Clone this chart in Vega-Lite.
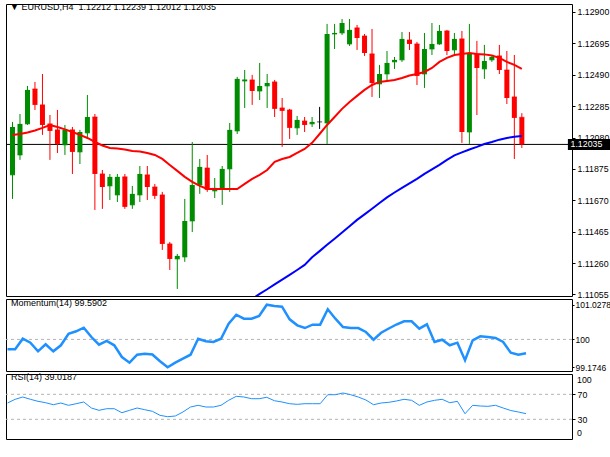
{
  "$schema": "https://vega.github.io/schema/vega-lite/v6.json",
  "background": "#ffffff",
  "padding": {"left": 2, "top": 2, "right": 0, "bottom": 0},
  "bounds": "flush",
  "spacing": 3,
  "resolve": {"scale": {"y": "independent"}},
  "datasets": {
    "d": [
      {"i":0,"o":1.11836,"h":1.12182,"l":1.11679,"c":1.12149,"ma20":1.12097,"mom":99.708,"rsi":56.08},
      {"i":1,"o":1.11966,"h":1.12234,"l":1.11934,"c":1.12169,"ma20":1.12103,"mom":99.708,"rsi":62.0},
      {"i":2,"o":1.12169,"h":1.12417,"l":1.12162,"c":1.12391,"ma20":1.12113,"mom":100.021,"rsi":65.68},
      {"i":3,"o":1.12397,"h":1.12443,"l":1.12260,"c":1.12293,"ma20":1.12126,"mom":99.903,"rsi":62.0},
      {"i":4,"o":1.12293,"h":1.12495,"l":1.12097,"c":1.12162,"ma20":1.12143,"mom":99.648,"rsi":58.8},
      {"i":5,"o":1.12169,"h":1.12227,"l":1.11934,"c":1.12123,"ma20":1.12162,"mom":99.855,"rsi":56.56},
      {"i":6,"o":1.12130,"h":1.12260,"l":1.11979,"c":1.12038,"ma20":1.12149,"mom":99.648,"rsi":53.36},
      {"i":7,"o":1.12032,"h":1.12162,"l":1.11966,"c":1.12130,"ma20":1.12133,"mom":99.826,"rsi":56.08},
      {"i":8,"o":1.12130,"h":1.12149,"l":1.11842,"c":1.11986,"ma20":1.12116,"mom":100.169,"rsi":52.4},
      {"i":9,"o":1.11986,"h":1.12130,"l":1.11907,"c":1.12116,"ma20":1.12097,"mom":100.240,"rsi":54.96},
      {"i":10,"o":1.12110,"h":1.12358,"l":1.12077,"c":1.12214,"ma20":1.12077,"mom":100.347,"rsi":57.68},
      {"i":11,"o":1.12214,"h":1.12234,"l":1.11607,"c":1.11842,"ma20":1.12051,"mom":100.071,"rsi":48.08},
      {"i":12,"o":1.11842,"h":1.11868,"l":1.11614,"c":1.11757,"ma20":1.12028,"mom":99.844,"rsi":44.4},
      {"i":13,"o":1.11764,"h":1.11842,"l":1.11672,"c":1.11823,"ma20":1.12012,"mom":99.953,"rsi":46.96},
      {"i":14,"o":1.11705,"h":1.11842,"l":1.11659,"c":1.11823,"ma20":1.12009,"mom":99.826,"rsi":46.96},
      {"i":15,"o":1.11823,"h":1.11842,"l":1.11614,"c":1.11627,"ma20":1.12002,"mom":99.479,"rsi":40.56},
      {"i":16,"o":1.11640,"h":1.11764,"l":1.11614,"c":1.11712,"ma20":1.11992,"mom":99.311,"rsi":44.4},
      {"i":17,"o":1.11705,"h":1.11894,"l":1.11659,"c":1.11842,"ma20":1.11989,"mom":99.547,"rsi":48.08},
      {"i":18,"o":1.11836,"h":1.11894,"l":1.11672,"c":1.11757,"ma20":1.11979,"mom":99.577,"rsi":45.36},
      {"i":19,"o":1.11757,"h":1.11777,"l":1.11679,"c":1.11699,"ma20":1.11966,"mom":99.553,"rsi":42.8},
      {"i":20,"o":1.11705,"h":1.11725,"l":1.11346,"c":1.11385,"ma20":1.11940,"mom":99.352,"rsi":36.4},
      {"i":21,"o":1.11385,"h":1.11398,"l":1.11215,"c":1.11287,"ma20":1.11901,"mom":99.1746,"rsi":34.16},
      {"i":22,"o":1.11287,"h":1.11320,"l":1.11091,"c":1.11307,"ma20":1.11862,"mom":99.311,"rsi":35.28},
      {"i":23,"o":1.11300,"h":1.11679,"l":1.11268,"c":1.11535,"ma20":1.11823,"mom":99.429,"rsi":41.68},
      {"i":24,"o":1.11535,"h":1.12051,"l":1.11463,"c":1.11770,"ma20":1.11790,"mom":99.547,"rsi":49.68},
      {"i":25,"o":1.11770,"h":1.11940,"l":1.11712,"c":1.11888,"ma20":1.11764,"mom":100.021,"rsi":52.4},
      {"i":26,"o":1.11881,"h":1.11966,"l":1.11725,"c":1.11738,"ma20":1.11744,"mom":99.944,"rsi":49.68},
      {"i":27,"o":1.11731,"h":1.11816,"l":1.11685,"c":1.11751,"ma20":1.11744,"mom":99.923,"rsi":49.68},
      {"i":28,"o":1.11744,"h":1.11894,"l":1.11640,"c":1.11875,"ma20":1.11744,"mom":100.021,"rsi":52.4},
      {"i":29,"o":1.11875,"h":1.12175,"l":1.11725,"c":1.12130,"ma20":1.11744,"mom":100.465,"rsi":60.4},
      {"i":30,"o":1.12123,"h":1.12476,"l":1.12103,"c":1.12463,"ma20":1.11744,"ma100":1.10964,"mom":100.731,"rsi":66.8},
      {"i":31,"o":1.12449,"h":1.12521,"l":1.12273,"c":1.12459,"ma20":1.11777,"ma100":1.10995,"mom":100.613,"rsi":65.68},
      {"i":32,"o":1.12456,"h":1.12489,"l":1.12293,"c":1.12384,"ma20":1.11810,"ma100":1.11026,"mom":100.613,"rsi":62.96},
      {"i":33,"o":1.12384,"h":1.12567,"l":1.12325,"c":1.12417,"ma20":1.11836,"ma100":1.11059,"mom":100.693,"rsi":62.96},
      {"i":34,"o":1.12417,"h":1.12495,"l":1.12273,"c":1.12436,"ma20":1.11868,"ma100":1.11089,"mom":101.0278,"rsi":65.2},
      {"i":35,"o":1.12443,"h":1.12456,"l":1.12214,"c":1.12267,"ma20":1.11921,"ma100":1.11121,"mom":100.989,"rsi":59.76},
      {"i":36,"o":1.12273,"h":1.12338,"l":1.12019,"c":1.12254,"ma20":1.11940,"ma100":1.11152,"mom":100.968,"rsi":57.68},
      {"i":37,"o":1.12260,"h":1.12267,"l":1.12071,"c":1.12143,"ma20":1.11953,"ma100":1.11183,"mom":100.595,"rsi":54.96},
      {"i":38,"o":1.12143,"h":1.12221,"l":1.12097,"c":1.12195,"ma20":1.11979,"ma100":1.11215,"mom":100.417,"rsi":54.0},
      {"i":39,"o":1.12188,"h":1.12214,"l":1.12116,"c":1.12162,"ma20":1.12005,"ma100":1.11248,"mom":100.337,"rsi":54.96},
      {"i":40,"o":1.12169,"h":1.12214,"l":1.12149,"c":1.12182,"ma20":1.12045,"ma100":1.11298,"mom":100.436,"rsi":54.96},
      {"i":41,"o":1.12182,"h":1.12280,"l":1.12136,"c":1.12182,"ma20":1.12103,"ma100":1.11338,"mom":100.436,"rsi":54.96},
      {"i":42,"o":1.12175,"h":1.12822,"l":1.12038,"c":1.12756,"ma20":1.12162,"ma100":1.11379,"mom":100.891,"rsi":69.36},
      {"i":43,"o":1.12756,"h":1.12822,"l":1.12658,"c":1.12763,"ma20":1.12214,"ma100":1.11419,"mom":100.613,"rsi":69.36},
      {"i":44,"o":1.12763,"h":1.12854,"l":1.12750,"c":1.12828,"ma20":1.12267,"ma100":1.11460,"mom":100.368,"rsi":72.08},
      {"i":45,"o":1.12691,"h":1.12854,"l":1.12678,"c":1.12783,"ma20":1.12312,"ma100":1.11501,"mom":100.337,"rsi":69.36},
      {"i":46,"o":1.12796,"h":1.12815,"l":1.12652,"c":1.12730,"ma20":1.12352,"ma100":1.11542,"mom":100.337,"rsi":65.68},
      {"i":47,"o":1.12743,"h":1.12756,"l":1.12613,"c":1.12632,"ma20":1.12391,"ma100":1.11578,"mom":100.219,"rsi":60.88},
      {"i":48,"o":1.12626,"h":1.12789,"l":1.12345,"c":1.12436,"ma20":1.12423,"ma100":1.11615,"mom":99.991,"rsi":53.36},
      {"i":49,"o":1.12430,"h":1.12554,"l":1.12338,"c":1.12495,"ma20":1.12443,"ma100":1.11652,"mom":100.198,"rsi":56.08},
      {"i":50,"o":1.12495,"h":1.12645,"l":1.12443,"c":1.12567,"ma20":1.12449,"ma100":1.11689,"mom":100.323,"rsi":57.2},
      {"i":51,"o":1.12574,"h":1.12606,"l":1.12528,"c":1.12587,"ma20":1.12456,"ma100":1.11721,"mom":100.441,"rsi":59.28},
      {"i":52,"o":1.12587,"h":1.12769,"l":1.12574,"c":1.12724,"ma20":1.12469,"ma100":1.11751,"mom":100.536,"rsi":62.0},
      {"i":53,"o":1.12717,"h":1.12769,"l":1.12652,"c":1.12691,"ma20":1.12485,"ma100":1.11780,"mom":100.536,"rsi":60.4},
      {"i":54,"o":1.12691,"h":1.12704,"l":1.12423,"c":1.12482,"ma20":1.12495,"ma100":1.11810,"mom":100.317,"rsi":52.4},
      {"i":55,"o":1.12495,"h":1.12763,"l":1.12404,"c":1.12658,"ma20":1.12508,"ma100":1.11842,"mom":100.447,"rsi":57.68},
      {"i":56,"o":1.12658,"h":1.12828,"l":1.12619,"c":1.12691,"ma20":1.12534,"ma100":1.11872,"mom":99.923,"rsi":60.4},
      {"i":57,"o":1.12691,"h":1.12815,"l":1.12685,"c":1.12776,"ma20":1.12574,"ma100":1.11901,"mom":99.991,"rsi":62.0},
      {"i":58,"o":1.12776,"h":1.12783,"l":1.12619,"c":1.12645,"ma20":1.12600,"ma100":1.11934,"mom":99.826,"rsi":56.56},
      {"i":59,"o":1.12652,"h":1.12763,"l":1.12613,"c":1.12724,"ma20":1.12619,"ma100":1.11963,"mom":99.903,"rsi":58.8},
      {"i":60,"o":1.12724,"h":1.12776,"l":1.12045,"c":1.12116,"ma20":1.12626,"ma100":1.11983,"mom":99.382,"rsi":38.96},
      {"i":61,"o":1.12116,"h":1.12822,"l":1.12038,"c":1.12626,"ma20":1.12632,"ma100":1.12002,"mom":99.974,"rsi":52.4},
      {"i":62,"o":1.12626,"h":1.12711,"l":1.12227,"c":1.12534,"ma20":1.12626,"ma100":1.12019,"mom":100.092,"rsi":51.28},
      {"i":63,"o":1.12528,"h":1.12685,"l":1.12463,"c":1.12580,"ma20":1.12623,"ma100":1.12038,"mom":100.071,"rsi":50.8},
      {"i":64,"o":1.12587,"h":1.12619,"l":1.12574,"c":1.12606,"ma20":1.12616,"ma100":1.12051,"mom":100.042,"rsi":52.4},
      {"i":65,"o":1.12613,"h":1.12685,"l":1.12495,"c":1.12521,"ma20":1.12600,"ma100":1.12066,"mom":99.923,"rsi":48.08},
      {"i":66,"o":1.12521,"h":1.12645,"l":1.12299,"c":1.12338,"ma20":1.12574,"ma100":1.12077,"mom":99.606,"rsi":44.08},
      {"i":67,"o":1.12345,"h":1.12619,"l":1.11940,"c":1.12208,"ma20":1.12554,"ma100":1.12085,"mom":99.550,"rsi":41.68},
      {"i":68,"o":1.12212,"h":1.12239,"l":1.12012,"c":1.12035,"ma20":1.12528,"ma100":1.12090,"mom":99.5902,"rsi":39.0187}
    ]
  },
  "vconcat": [
    {
      "width": 566,
      "height": 292,
      "title": {"text": "▼ EURUSD,H4\u00a0\u00a01.12212 1.12239 1.12012 1.12035", "offset": -8, "dx": 4},
      "data": {"name": "d"},
      "layer": [
        {
          "transform": [{"filter": "datum.i == 68"}],
          "mark": {"type": "rule", "color": "#000000", "strokeWidth": 1},
          "encoding": {
            "y": {"field": "c", "type": "quantitative", "scale": {"domain": [1.11045, 1.12952], "nice": false, "zero": false},
              "axis": {"orient": "right", "title": null, "values": [1.11055, 1.1126, 1.11465, 1.1167, 1.11875, 1.1208, 1.12285, 1.1249, 1.12695, 1.129], "tickCount": 12, "format": ".5f", "tickSize": 3, "labelPadding": 2, "labelOverlap": false, "labelBound": false}}
          }
        },
        {
          "mark": {"type": "rule", "strokeWidth": 1},
          "encoding": {
            "x": {"field": "i", "type": "quantitative", "scale": {"domain": [-0.2, 74.03], "nice": false, "zero": false}, "axis": null},
            "y": {"field": "l", "type": "quantitative", "scale": {"domain": [1.11045, 1.12952], "nice": false, "zero": false},
              "axis": {"orient": "right", "title": null, "values": [1.11055, 1.1126, 1.11465, 1.1167, 1.11875, 1.1208, 1.12285, 1.1249, 1.12695, 1.129], "tickCount": 12, "format": ".5f", "tickSize": 3, "labelPadding": 2, "labelOverlap": false, "labelBound": false}},
            "y2": {"field": "h"},
            "color": {"condition": [{"test": "datum.c > datum.o", "value": "#008c00"}, {"test": "datum.c < datum.o", "value": "#ff0000"}], "value": "#000000"}
          }
        },
        {
          "mark": {"type": "bar", "size": 5},
          "encoding": {
            "x": {"field": "i", "type": "quantitative", "scale": {"domain": [-0.2, 74.03], "nice": false, "zero": false}, "axis": null},
            "y": {"field": "o", "type": "quantitative", "scale": {"domain": [1.11045, 1.12952], "nice": false, "zero": false},
              "axis": {"orient": "right", "title": null, "values": [1.11055, 1.1126, 1.11465, 1.1167, 1.11875, 1.1208, 1.12285, 1.1249, 1.12695, 1.129], "tickCount": 12, "format": ".5f", "tickSize": 3, "labelPadding": 2, "labelOverlap": false, "labelBound": false}},
            "y2": {"field": "c"},
            "color": {"condition": [{"test": "datum.c > datum.o", "value": "#008c00"}, {"test": "datum.c < datum.o", "value": "#ff0000"}], "value": "#000000"}
          }
        },
        {
          "mark": {"type": "tick", "orient": "horizontal", "size": 5, "thickness": 1},
          "encoding": {
            "x": {"field": "i", "type": "quantitative", "scale": {"domain": [-0.2, 74.03], "nice": false, "zero": false}, "axis": null},
            "y": {"field": "o", "type": "quantitative", "scale": {"domain": [1.11045, 1.12952], "nice": false, "zero": false},
              "axis": {"orient": "right", "title": null, "values": [1.11055, 1.1126, 1.11465, 1.1167, 1.11875, 1.1208, 1.12285, 1.1249, 1.12695, 1.129], "tickCount": 12, "format": ".5f", "tickSize": 3, "labelPadding": 2, "labelOverlap": false, "labelBound": false}},
            "color": {"condition": [{"test": "datum.c > datum.o", "value": "#008c00"}, {"test": "datum.c < datum.o", "value": "#ff0000"}], "value": "#000000"}
          }
        },
        {
          "mark": {"type": "line", "color": "#ff0000", "strokeWidth": 2},
          "encoding": {
            "x": {"field": "i", "type": "quantitative", "scale": {"domain": [-0.2, 74.03], "nice": false, "zero": false}, "axis": null},
            "y": {"field": "ma20", "type": "quantitative", "scale": {"domain": [1.11045, 1.12952], "nice": false, "zero": false},
              "axis": {"orient": "right", "title": null, "values": [1.11055, 1.1126, 1.11465, 1.1167, 1.11875, 1.1208, 1.12285, 1.1249, 1.12695, 1.129], "tickCount": 12, "format": ".5f", "tickSize": 3, "labelPadding": 2, "labelOverlap": false, "labelBound": false}}
          }
        },
        {
          "mark": {"type": "line", "color": "#0000ff", "strokeWidth": 2, "clip": true},
          "encoding": {
            "x": {"field": "i", "type": "quantitative", "scale": {"domain": [-0.2, 74.03], "nice": false, "zero": false}, "axis": null},
            "y": {"field": "ma100", "type": "quantitative", "scale": {"domain": [1.11045, 1.12952], "nice": false, "zero": false},
              "axis": {"orient": "right", "title": null, "values": [1.11055, 1.1126, 1.11465, 1.1167, 1.11875, 1.1208, 1.12285, 1.1249, 1.12695, 1.129], "tickCount": 12, "format": ".5f", "tickSize": 3, "labelPadding": 2, "labelOverlap": false, "labelBound": false}}
          }
        },
        {
          "transform": [{"filter": "datum.i == 68"}],
          "mark": {"type": "rect", "color": "#000000"},
          "encoding": {
            "x": {"datum": 74.15, "type": "quantitative", "scale": {"domain": [-0.2, 74.03], "nice": false, "zero": false}, "axis": null},
            "x2": {"datum": 79.8},
            "y": {"datum": 1.11999, "type": "quantitative", "scale": {"domain": [1.11045, 1.12952], "nice": false, "zero": false},
              "axis": {"orient": "right", "title": null, "values": [1.11055, 1.1126, 1.11465, 1.1167, 1.11875, 1.1208, 1.12285, 1.1249, 1.12695, 1.129], "tickCount": 12, "format": ".5f", "tickSize": 3, "labelPadding": 2, "labelOverlap": false, "labelBound": false}},
            "y2": {"datum": 1.12071}
          }
        },
        {
          "transform": [{"filter": "datum.i == 68"}],
          "mark": {"type": "text", "color": "#ffffff", "align": "left", "baseline": "middle", "fontSize": 8.8, "font": "Liberation Sans"},
          "encoding": {
            "x": {"datum": 74.5, "type": "quantitative", "scale": {"domain": [-0.2, 74.03], "nice": false, "zero": false}, "axis": null},
            "y": {"field": "c", "type": "quantitative", "scale": {"domain": [1.11045, 1.12952], "nice": false, "zero": false},
              "axis": {"orient": "right", "title": null, "values": [1.11055, 1.1126, 1.11465, 1.1167, 1.11875, 1.1208, 1.12285, 1.1249, 1.12695, 1.129], "tickCount": 12, "format": ".5f", "tickSize": 3, "labelPadding": 2, "labelOverlap": false, "labelBound": false}},
            "text": {"field": "c", "type": "quantitative", "format": ".5f"}
          }
        }
      ]
    },
    {
      "width": 566,
      "height": 72,
      "title": {"text": "Momentum(14) 99.5902", "offset": -9, "dx": 5},
      "data": {"name": "d"},
      "layer": [
        {
          "transform": [{"filter": "datum.i == 68"}],
          "mark": {"type": "rule", "color": "#b4b4b4", "strokeWidth": 1, "strokeDash": [3, 3]},
          "encoding": {
            "y": {"datum": 100, "type": "quantitative", "scale": {"domain": [99.065, 101.196], "nice": false, "zero": false},
              "axis": {"orient": "right", "title": null, "values": [99.1746, 100, 101.0278], "tickCount": 12, "labelExpr": "datum.value == 100 ? '100' : format(datum.value, '.4f')", "labelFontSize": 8.5, "tickSize": 2, "labelPadding": 1, "labelOverlap": false, "labelBound": false}}
          }
        },
        {
          "mark": {"type": "line", "color": "#1e90ff", "strokeWidth": 2.5},
          "encoding": {
            "x": {"field": "i", "type": "quantitative", "scale": {"domain": [-0.2, 74.03], "nice": false, "zero": false}, "axis": null},
            "y": {"field": "mom", "type": "quantitative", "scale": {"domain": [99.065, 101.196], "nice": false, "zero": false},
              "axis": {"orient": "right", "title": null, "values": [99.1746, 100, 101.0278], "tickCount": 12, "labelExpr": "datum.value == 100 ? '100' : format(datum.value, '.4f')", "labelFontSize": 8.5, "tickSize": 2, "labelPadding": 1, "labelOverlap": false, "labelBound": false}}
          }
        }
      ]
    },
    {
      "width": 566,
      "height": 65,
      "title": {"text": "RSI(14) 39.0187", "offset": -8, "dx": 5},
      "data": {"name": "d"},
      "layer": [
        {
          "transform": [{"filter": "datum.i == 68"}],
          "mark": {"type": "rule", "color": "#b4b4b4", "strokeWidth": 1, "strokeDash": [3, 3]},
          "encoding": {
            "y": {"datum": 70, "type": "quantitative", "scale": {"domain": [-1.5, 102.5], "nice": false, "zero": false},
              "axis": {"orient": "right", "title": null, "values": [30, 70], "tickCount": 12, "tickSize": 3, "labelPadding": 2, "labelOverlap": false, "labelBound": false}}
          }
        },
        {
          "transform": [{"filter": "datum.i == 68"}],
          "mark": {"type": "rule", "color": "#b4b4b4", "strokeWidth": 1, "strokeDash": [3, 3]},
          "encoding": {
            "y": {"datum": 30, "type": "quantitative", "scale": {"domain": [-1.5, 102.5], "nice": false, "zero": false},
              "axis": {"orient": "right", "title": null, "values": [30, 70], "tickCount": 12, "tickSize": 3, "labelPadding": 2, "labelOverlap": false, "labelBound": false}}
          }
        },
        {
          "transform": [{"filter": "datum.i == 68"}],
          "mark": {"type": "text", "color": "#000000", "align": "left", "baseline": "top", "fontSize": 8.8, "font": "Liberation Sans"},
          "encoding": {
            "x": {"datum": 74.69, "type": "quantitative", "scale": {"domain": [-0.2, 74.03], "nice": false, "zero": false}, "axis": null},
            "y": {"datum": 100, "type": "quantitative", "scale": {"domain": [-1.5, 102.5], "nice": false, "zero": false},
              "axis": {"orient": "right", "title": null, "values": [30, 70], "tickCount": 12, "tickSize": 3, "labelPadding": 2, "labelOverlap": false, "labelBound": false}},
            "text": {"value": "100"}
          }
        },
        {
          "transform": [{"filter": "datum.i == 68"}],
          "mark": {"type": "text", "color": "#000000", "align": "left", "baseline": "bottom", "fontSize": 8.8, "font": "Liberation Sans"},
          "encoding": {
            "x": {"datum": 74.69, "type": "quantitative", "scale": {"domain": [-0.2, 74.03], "nice": false, "zero": false}, "axis": null},
            "y": {"datum": 0, "type": "quantitative", "scale": {"domain": [-1.5, 102.5], "nice": false, "zero": false},
              "axis": {"orient": "right", "title": null, "values": [30, 70], "tickCount": 12, "tickSize": 3, "labelPadding": 2, "labelOverlap": false, "labelBound": false}},
            "text": {"value": "0"}
          }
        },
        {
          "mark": {"type": "line", "color": "#1e90ff", "strokeWidth": 1},
          "encoding": {
            "x": {"field": "i", "type": "quantitative", "scale": {"domain": [-0.2, 74.03], "nice": false, "zero": false},
              "axis": {"title": null, "values": [0, 8, 16, 24, 32, 40, 48, 56, 64], "labelExpr": "['24 May 2017', '26 May 00:00', '29 May 04:00', '30 May 12:00', '31 May 20:00', '2 Jun 04:00', '5 Jun 08:00', '6 Jun 16:00', '8 Jun 00:00'][datum.value / 8]", "labelAlign": "left", "labelOffset": 1, "tickSize": 4, "labelPadding": 1, "labelFlush": false, "labelOverlap": false, "labelBound": false}},
            "y": {"field": "rsi", "type": "quantitative", "scale": {"domain": [-1.5, 102.5], "nice": false, "zero": false},
              "axis": {"orient": "right", "title": null, "values": [30, 70], "tickCount": 12, "tickSize": 3, "labelPadding": 2, "labelOverlap": false, "labelBound": false}}
          }
        }
      ]
    }
  ],
  "config": {
    "font": "Liberation Sans",
    "view": {"stroke": "#000000", "strokeWidth": 1},
    "axis": {"labelFont": "Liberation Sans", "labelFontSize": 8.8, "labelColor": "#000000", "tickColor": "#000000", "domain": false, "grid": false, "labelOverlap": false},
    "title": {"font": "Liberation Sans", "fontSize": 9, "fontWeight": "normal", "anchor": "start", "frame": "group", "baseline": "middle", "color": "#000000", "orient": "top"}
  }
}
